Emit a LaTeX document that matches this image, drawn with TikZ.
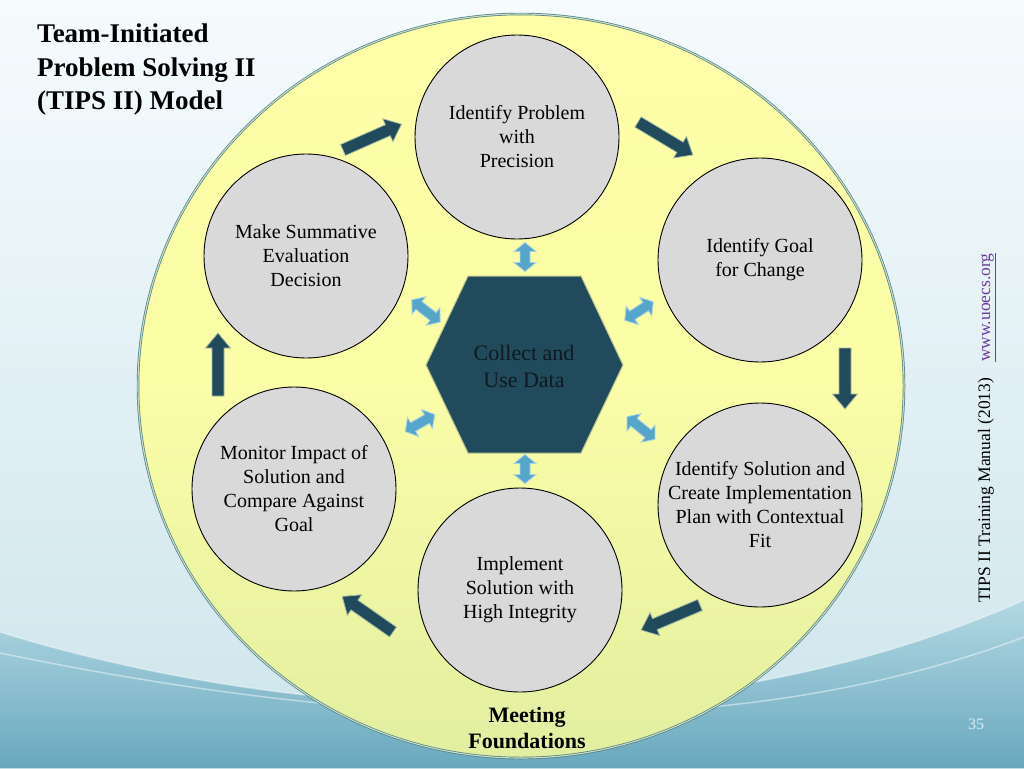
\documentclass[tikz,border=0pt]{standalone}
\usepackage{fontspec}
\setmainfont{Liberation Serif}
\usetikzlibrary{calc}
\definecolor{bgtop}{HTML}{F6FBFD}
\definecolor{bgmid}{HTML}{CDE5EC}
\definecolor{swtop}{HTML}{B3D8E3}
\definecolor{swbot}{HTML}{68A8BE}
\definecolor{ytop}{HTML}{FFFFA8}
\definecolor{ybot}{HTML}{E2EFA0}
\definecolor{ring}{HTML}{4F7E84}
\definecolor{ringin}{HTML}{C9DDC4}
\definecolor{cgray}{HTML}{D9D9D9}
\definecolor{dteal}{HTML}{214B5D}
\definecolor{dtealline}{HTML}{A3BBA2}
\definecolor{lblue}{HTML}{56A6CC}
\definecolor{lblueline}{HTML}{A8D3E3}
\definecolor{hexline}{HTML}{B9C58F}
\definecolor{hextext}{HTML}{0E1A1F}
\definecolor{urlpurple}{HTML}{6E3AA0}
\definecolor{pagenum}{HTML}{DCEFF5}
\tikzset{
  stepcircle/.style={circle, minimum size=204pt, inner sep=0pt, fill=cgray, draw=black, line width=0.9pt},
  steptext/.style={align=center, inner sep=0pt, font=\fontsize{20}{24}\selectfont},
  darkarrow/.style={fill=dteal, draw=dtealline, line width=0.8pt, line join=miter},
  bluearrow/.style={fill=lblue, draw=lblueline, line width=0.8pt, line join=miter},
}
% block arrow: tail x, tail y, angle, length
\newcommand{\blockarr}[4]{%
  \begin{scope}[shift={(#1,#2)},rotate=#3]
    \draw[darkarrow] (0,-6) -- ({#4-15},-6) -- ({#4-15},-12.5) -- (#4,0) -- ({#4-15},12.5) -- ({#4-15},6) -- (0,6) -- cycle;
  \end{scope}}
% double arrow: centre x, centre y, angle, length
\newcommand{\dblarr}[4]{%
  \begin{scope}[shift={(#1,#2)},rotate=#3]
    \draw[bluearrow] ({-#4/2},0) -- ({-#4/2+9},11) -- ({-#4/2+9},5) -- ({#4/2-9},5) -- ({#4/2-9},11) -- ({#4/2},0) -- ({#4/2-9},-11) -- ({#4/2-9},-5) -- ({-#4/2+9},-5) -- ({-#4/2+9},-11) -- cycle;
  \end{scope}}
\begin{document}
\begin{tikzpicture}[x=1pt,y=-1pt]
\useasboundingbox (0,0) rectangle (1024,768);
% background
\shade[top color=bgtop, bottom color=bgmid] (0,0) rectangle (1024,768);
\shade[top color=swtop, bottom color=swbot] (0,632) .. controls (300,725) and (700,745) .. (1024,600) -- (1024,768) -- (0,768) -- cycle;
\draw[white, opacity=0.45, line width=1.5pt] (0,653) .. controls (300,715) and (700,760) .. (1024,637);
\draw[white, opacity=0.4, line width=1.5pt] (0,632) .. controls (300,725) and (700,745) .. (1024,600);
% big ring
\shade[top color=ytop, bottom color=ybot, middle color=ytop!85!ybot] (521,386) ellipse [x radius=383pt, y radius=372pt];
\draw[draw=ring, double=ringin, double distance=1.1pt, line width=0.7pt] (521,386) ellipse [x radius=383pt, y radius=372pt];
% step circles
\node[stepcircle] (c1) at (517,137) {};
\node[stepcircle] (c2) at (760,260) {};
\node[stepcircle] (c3) at (760,505) {};
\node[stepcircle] (c4) at (520,590) {};
\node[stepcircle] (c5) at (294,489) {};
\node[stepcircle] (c6) at (306,256) {};
\node[steptext] (t1) at (c1) {Identify Problem\\with\\Precision};
\node[steptext] (t2) at (c2) {Identify Goal\\for Change};
\node[steptext] (t3) at (c3) {Identify Solution and\\Create Implementation\\Plan with Contextual\\Fit};
\node[steptext] (t4) at (c4) {Implement\\Solution with\\High Integrity};
\node[steptext] (t5) at (c5) {Monitor Impact of\\Solution and\\Compare Against\\Goal};
\node[steptext] (t6) at (c6) {Make Summative\\Evaluation\\Decision};
% hexagon
\draw[fill=dteal, draw=hexline, line width=1pt] (468,276) -- (581,276) -- (623,365) -- (581,453) -- (468,453) -- (426,365) -- cycle;
\node[align=center, inner sep=0pt, text=hextext, font=\fontsize{22}{27}\selectfont] (hex) at (524,366) {Collect and\\Use Data};
% cycle arrows
\blockarr{343}{150}{23.8}{64}
\blockarr{638}{122}{-31}{64}
\blockarr{845}{348}{-90}{61}
\blockarr{700}{605}{203}{64}
\blockarr{393}{632}{145}{62}
\blockarr{218}{396}{90}{63}
% data arrows
\dblarr{525}{257}{90}{29}
\dblarr{525}{469}{90}{29}
\dblarr{426}{311}{-38}{36}
\dblarr{639}{311}{33}{34}
\dblarr{420}{423}{30}{34}
\dblarr{641}{428}{-39}{36}
% texts
\node[anchor=north west, align=left, inner sep=0pt, font=\bfseries\fontsize{27}{33.5}\selectfont] (title) at (37,24) {Team-Initiated\\Problem Solving II\\(TIPS II) Model};
\node[align=center, inner sep=0pt, font=\bfseries\fontsize{22}{26}\selectfont] (mf) at (527,728) {Meeting\\Foundations};
\node[rotate=90, anchor=base west, inner sep=0pt, font=\fontsize{17.5}{20}\selectfont] (man) at (990,603) {TIPS II Training Manual (2013)};
\node[rotate=90, anchor=base west, inner sep=0pt, text=urlpurple, font=\fontsize{17.5}{20}\selectfont] (url) at (990,362) {\underline{www.uoecs.org}};
\node[inner sep=0pt, text=pagenum, font=\fontsize{16}{18}\selectfont] (pg) at (976,724) {35};
\end{tikzpicture}
\end{document}
